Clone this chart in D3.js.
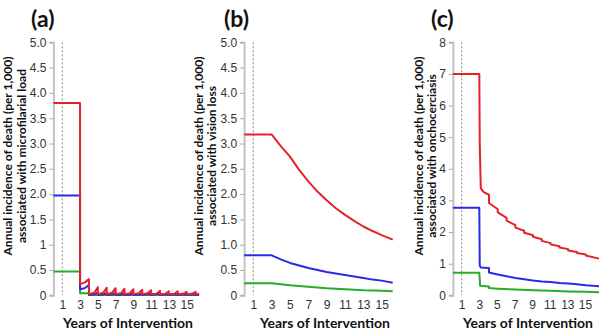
<!DOCTYPE html>
<html>
<head>
<meta charset="utf-8">
<script src="https://cdn.jsdelivr.net/npm/d3@7"></script>
<style>
  body { margin: 0; background: #fff; }
  svg { display: block; }
</style>
</head>
<body>
<svg id="chart" width="600" height="332"></svg>
<script>
// ---- data ----
const yearTicks = [1, 3, 5, 7, 9, 11, 13, 15];

const yTicksAB = [0, 0.5, 1, 1.5, 2, 2.5, 3, 3.5, 4, 4.5, 5];
const yLabelsA = ["0", "0.5", "1", "1.5", "2.0", "2.5", "3.0", "3.5", "4.0", "4.5", "5.0"];
const yLabelsB = ["0", "0.5", "1.0", "1.5", "2.0", "2.5", "3.0", "3.5", "4.0", "4.5", "5.0"];
const yTicksC = [0, 1, 2, 3, 4, 5, 6, 7, 8];
const yLabelsC = ["0", "1", "2", "3", "4", "5", "6", "7", "8"];

// (a) microfilarial load: [year, deaths per 1,000]
const redA = [[0,3.8],[3,3.8],[3,0.22],[3.5,0.25],[4,0.32],
  [4,0.02],[4.6,0.05],[5,0.16],[5,0.02],[5.6,0.05],[6,0.15],[6,0.02],[6.6,0.05],[7,0.14],
  [7,0.02],[7.6,0.04],[8,0.13],[8,0.02],[8.6,0.04],[9,0.12],[9,0.02],[9.6,0.04],[10,0.11],
  [10,0.02],[10.6,0.04],[11,0.10],[11,0.02],[11.6,0.03],[12,0.09],[12,0.02],[12.6,0.03],[13,0.08],
  [13,0.02],[13.6,0.03],[14,0.08],[14,0.02],[14.6,0.03],[15,0.07],[15,0.02],[15.6,0.03],[16,0.07],
  [16,0.02],[16.4,0.03]];
const blueA = [[0,1.97],[3,1.97],[3,0.12],[3.5,0.14],[4,0.2],
  [4,0.005],[4.6,0.015],[5,0.06],[5,0.005],[5.6,0.015],[6,0.05],[6,0.005],[6.6,0.015],[7,0.05],
  [7,0.005],[7.6,0.01],[8,0.04],[8,0.005],[8.6,0.01],[9,0.04],[9,0.005],[9.6,0.01],[10,0.03],
  [10,0.005],[11,0.03],[11,0.005],[12,0.03],[12,0.005],[13,0.02],[13,0.005],[14,0.02],
  [14,0.005],[15,0.02],[15,0.005],[16,0.02],[16,0.005],[16.4,0.01]];
const greenA = [[0,0.47],[3,0.47],[3,0.04],[4,0.04],[4,0.005],[16.4,0.005]];

// (b) vision loss
const redB = [[0,3.18],[3,3.18],[4,2.95],[5,2.74],[6,2.48],[7,2.25],[8,2.05],[9,1.88],
  [10,1.72],[11,1.59],[12,1.47],[13,1.36],[14,1.27],[15,1.19],[16.2,1.1]];
const blueB = [[0,0.79],[3,0.79],[4,0.71],[5,0.64],[6,0.59],[7,0.54],[8,0.5],[9,0.46],
  [10,0.43],[11,0.4],[12,0.37],[13,0.34],[14,0.31],[15,0.29],[16.2,0.25]];
const greenB = [[0,0.24],[3,0.24],[5,0.2],[7,0.17],[9,0.14],[11,0.12],[13,0.1],[15,0.09],[16.2,0.08]];

// (c) onchocerciasis
const redC = [[0,7.0],[3,7.0],[3.05,4.8],[3.17,3.38],[3.5,3.26],[4.1,3.18],[4.1,2.92],
  [5.1,2.72],[5.1,2.62],[6.1,2.45],[6.1,2.36],[7.1,2.22],[7.1,2.14],[8.1,2.04],[8.1,1.98],
  [9.1,1.9],[9.1,1.85],[10.1,1.77],[10.1,1.72],[11.1,1.65],[11.1,1.61],[12.1,1.55],[12.1,1.51],
  [13.1,1.46],[13.1,1.42],[14.1,1.37],[14.1,1.34],[15.1,1.29],[15.1,1.26],[16.6,1.16]];
const blueC = [[0,2.77],[3,2.77],[3.05,0.95],[3.15,0.88],[4.1,0.86],[4.1,0.72],[5.1,0.66],
  [6.1,0.6],[7.1,0.55],[8.1,0.51],[9.1,0.47],[10.1,0.44],[11.1,0.42],[12.1,0.39],[13.1,0.37],
  [14.1,0.35],[15.1,0.32],[16.6,0.29]];
const greenC = [[0,0.71],[3,0.71],[3.1,0.3],[4.1,0.28],[4.1,0.23],[5.1,0.21],[7.1,0.18],
  [9.1,0.16],[11.1,0.14],[13.1,0.12],[15.1,0.11],[16.6,0.1]];

const COLORS = { red: "#e8202a", blue: "#2a2ae6", green: "#26ad26" };

// ---- layout ----
const TOP = 42.3, BOTTOM = 295.3;
const panels = [
  { tag: "(a)", tagX: 31, x0: 53.4, x1: 199.1, xMax: 16.4, yMax: 5, yTicks: yTicksAB, yLabels: yLabelsA,
    lab1X: 12, lab2X: 26, xLabX: 128,
    line1: "Annual incidence of death (per 1,000)", line2: "associated with microfilarial load",
    series: [[greenA, "green"], [blueA, "blue"], [redA, "red"]] },
  { tag: "(b)", tagX: 224, x0: 244.1, x1: 392.7, xMax: 16.2, yMax: 5, yTicks: yTicksAB, yLabels: yLabelsB,
    lab1X: 203, lab2X: 216, xLabX: 325,
    line1: "Annual incidence of death (per 1,000)", line2: "associated with vision loss",
    series: [[greenB, "green"], [blueB, "blue"], [redB, "red"]] },
  { tag: "(c)", tagX: 431, x0: 452.9, x1: 599, xMax: 16.6, yMax: 8, yTicks: yTicksC, yLabels: yLabelsC,
    lab1X: 423, lab2X: 436, xLabX: 528,
    line1: "Annual incidence of death (per 1,000)", line2: "associated with onchocerciasis",
    series: [[greenC, "green"], [blueC, "blue"], [redC, "red"]] }
];

const svg = d3.select("#chart");

panels.forEach(p => {
  const g = svg.append("g");

  const x = d3.scaleLinear().domain([0, p.xMax]).range([p.x0, p.x1]);
  const y = d3.scaleLinear().domain([0, p.yMax]).range([BOTTOM, TOP]);

  // panel tag
  g.append("text")
    .attr("x", p.tagX).attr("y", 27)
    .attr("font-family", "Lato, 'Open Sans', sans-serif")
    .attr("font-weight", "bold").attr("font-size", 23)
    .attr("fill", "#111")
    .text(p.tag);

  // reference line at year 1
  g.append("line")
    .attr("x1", x(1)).attr("x2", x(1))
    .attr("y1", TOP).attr("y2", BOTTOM)
    .attr("stroke", "#8a8a8a").attr("stroke-width", 1)
    .attr("stroke-dasharray", "2,2");

  // y axis
  const yAxis = g.append("g")
    .attr("transform", `translate(${p.x0}, 0)`)
    .call(d3.axisLeft(y).tickValues(p.yTicks).tickSize(4).tickPadding(3)
      .tickFormat((d, i) => p.yLabels[i]));
  yAxis.select(".domain").attr("stroke", "#c4c4c4").attr("stroke-width", 2);
  yAxis.selectAll(".tick line").attr("stroke", "#aaa");
  yAxis.selectAll(".tick text")
    .attr("font-family", "'Liberation Sans', Arial, sans-serif")
    .attr("font-size", 12).attr("fill", "#333");

  // x tick labels (no axis line)
  const xAxis = g.append("g")
    .attr("transform", `translate(0, ${BOTTOM})`)
    .call(d3.axisBottom(x).tickValues(yearTicks).tickSize(0).tickPadding(5));
  xAxis.select(".domain").remove();
  xAxis.selectAll(".tick text")
    .attr("font-family", "'Liberation Sans', Arial, sans-serif")
    .attr("font-size", 12).attr("fill", "#333");

  // x label
  g.append("text")
    .attr("x", p.xLabX).attr("y", 328)
    .attr("text-anchor", "middle")
    .attr("font-family", "Lato, 'Open Sans', sans-serif")
    .attr("font-weight", "bold").attr("font-size", 14)
    .attr("fill", "#111")
    .text("Years of Intervention");

  // y label, two lines
  [[p.line1, p.lab1X], [p.line2, p.lab2X]].forEach(([txt, lx]) => {
    g.append("text")
      .attr("transform", `translate(${lx}, 156) rotate(-90)`)
      .attr("text-anchor", "middle")
      .attr("font-family", "Lato, 'Open Sans', sans-serif")
      .attr("font-weight", "bold").attr("font-size", 12)
      .attr("fill", "#111")
      .text(txt);
  });

  // series
  const line = d3.line().x(d => x(d[0])).y(d => y(d[1]));
  p.series.forEach(([data, c]) => {
    g.append("path")
      .datum(data)
      .attr("fill", "none")
      .attr("stroke", COLORS[c])
      .attr("stroke-width", 2)
      .attr("stroke-linejoin", "round")
      .attr("d", line);
  });
});
</script>
</body>
</html>
